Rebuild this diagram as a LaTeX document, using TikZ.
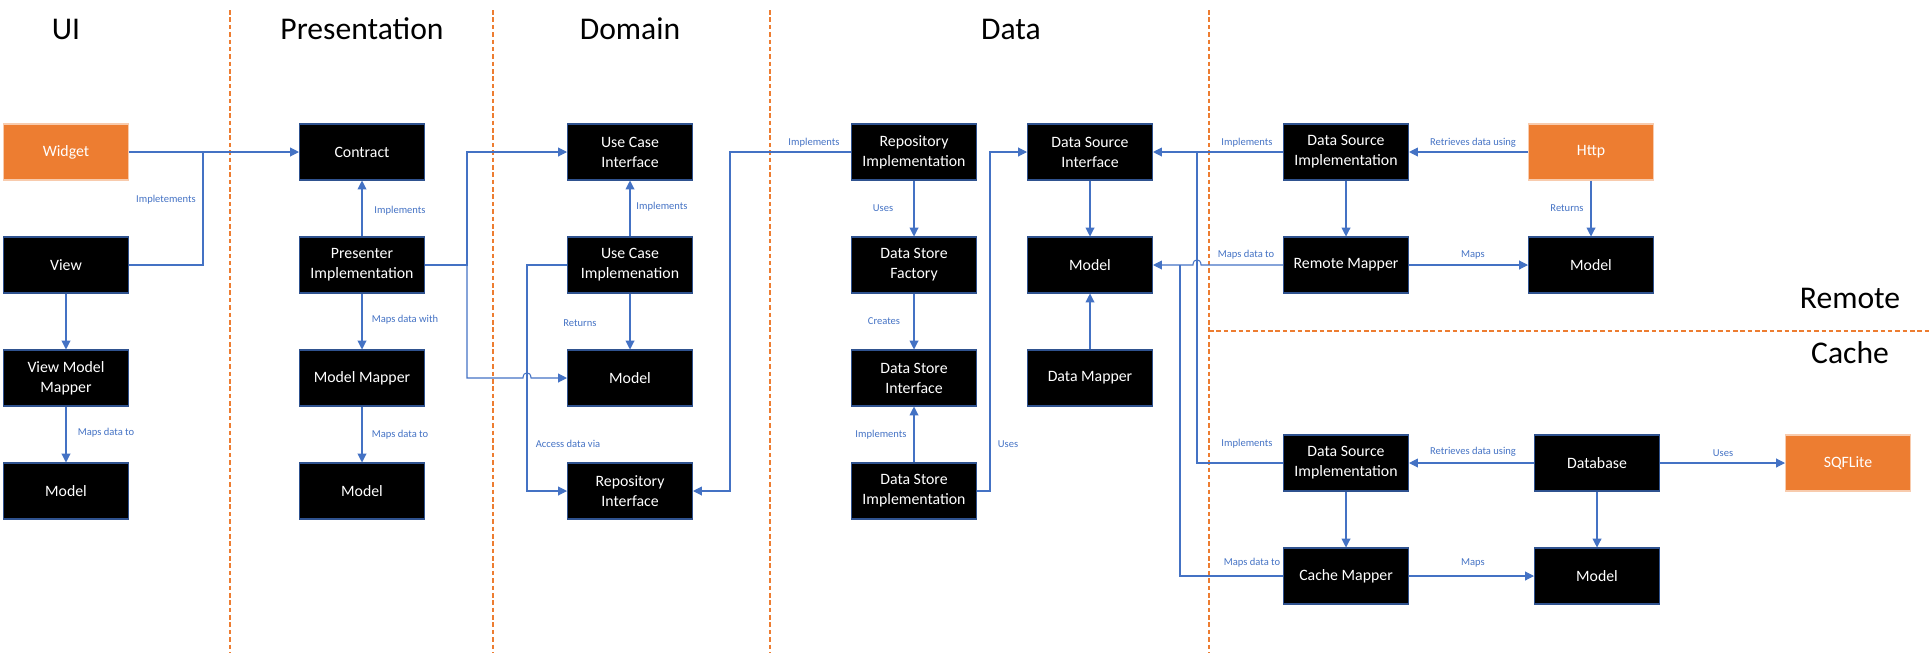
\documentclass[tikz,border=0pt]{standalone}
\usepackage{fontspec}
\setmainfont{Carlito}
\usepackage{xcolor}
\usepackage{tikz}
\usetikzlibrary{arrows.meta}

\definecolor{lineblue}{HTML}{4472C4}
\definecolor{boxedge}{HTML}{2F528F}
\definecolor{extorange}{HTML}{ED7D31}
\definecolor{extedge}{HTML}{F8CBAD}

\tikzset{
  box/.style={draw=boxedge, fill=black, text=white, line width=0.6pt,
    minimum width=2.5cm, minimum height=1.12cm, inner sep=0pt, align=center,
    font=\fontsize{9}{11.4}\selectfont},
  extbox/.style={box, draw=extedge, fill=extorange},
  conn/.style={draw=lineblue, line width=0.6pt},
  arr/.style={conn, -{Triangle[length=5pt,width=5pt]}},
  lbl/.style={text=lineblue, font=\fontsize{6}{7}\selectfont, inner sep=0pt},
  layer/.style={font=\fontsize{18}{20}\selectfont, inner sep=0pt, anchor=base},
  sep/.style={draw=extorange, line width=0.6pt, dash pattern=on 2.6pt off 1.6pt}
}

\begin{document}
\begin{tikzpicture}[x=0.02cm, y=-0.02cm]
  \useasboundingbox (0,0) rectangle (1929,653);
  % Layer separators
  \foreach \x in {230,493,770,1209}{
    \draw[sep] (\x,10) -- (\x,653);
  }
  \draw[sep] (1209,331) -- (1929,331);
  % Layer titles
  \node[layer] (tui) at (66,39) {UI};
  \node[layer] (tpres) at (362,39) {Presentation};
  \node[layer] (tdom) at (630,39) {Domain};
  \node[layer] (tdata) at (1011,39) {Data};
  \node[layer] (tremote) at (1850,308) {Remote};
  \node[layer] (tcache) at (1850,363) {Cache};
  % Components
  \foreach \n/\x/\y/\t in {
    view/66/265/View, vmm/66/378/{View Model\\Mapper}, uimodel/66/491/Model,
    contract/362/152/Contract, presenter/362/265/{Presenter\\Implementation},
    mmapper/362/378/Model Mapper, pmodel/362/491/Model,
    ucif/630/152/{Use Case\\Interface}, ucimpl/630/265/{Use Case\\Implemenation},
    dmodel/630/378/Model, repoif/630/491/{Repository\\Interface},
    repoimpl/914/152/{Repository\\Implementation}, dsfactory/914/265/{Data Store\\Factory},
    dsif/914/378/{Data Store\\Interface}, dsimpl/914/491/{Data Store\\Implementation},
    srcif/1090/152/{Data Source\\Interface}, datamodel/1090/265/Model,
    datamapper/1090/378/Data Mapper,
    remimpl/1346/152/{Data Source\\Implementation}, remmapper/1346/265/Remote Mapper,
    remmodel/1591/265/Model,
    cacheimpl/1346/463/{Data Source\\Implementation}, cachemapper/1346/576/Cache Mapper,
    database/1597/463/Database, cachemodel/1597/576/Model}{
    \node[box] (\n) at (\x,\y) {\t};
  }
  % External pieces
  \node[extbox] (widget) at (66,152) {Widget};
  \node[extbox] (http) at (1591,152) {Http};
  \node[extbox] (sqflite) at (1848,463) {SQFLite};
  % UI
  \coordinate (jview) at (203,152);
  \draw[arr] (widget.east) -- (contract.west);
  \draw[conn] (view.east) -| (jview);
  \draw[arr] (view) -- (vmm);
  \draw[arr] (vmm) -- (uimodel);
  % Presentation
  \draw[arr] (presenter) -- (contract);
  \draw[arr] (presenter) -- (mmapper);
  \draw[arr] (mmapper) -- (pmodel);
  \draw[arr] (presenter.east) -- (467,265) |- (ucif.west);
  \draw[arr] (presenter.east) -- (467,265) |- (523,378)
    .. controls (523,371) and (531,371) .. (531,378) -- (dmodel.west);
  % Domain
  \draw[arr] (ucimpl) -- (ucif);
  \draw[arr] (ucimpl) -- (dmodel);
  \draw[arr] (ucimpl.west) -- (527,265) |- (repoif.west);
  \draw[arr] (repoimpl.west) -- (730,152) |- (repoif.east);
  % Data
  \draw[arr] (repoimpl) -- (dsfactory);
  \draw[arr] (dsfactory) -- (dsif);
  \draw[arr] (dsimpl) -- (dsif);
  \draw[arr] (dsimpl.east) -- (990,491) |- (srcif.west);
  \draw[arr] (srcif) -- (datamodel);
  \draw[arr] (datamapper) -- (datamodel);
  % Remote
  \draw[arr] (remimpl) -- (srcif);
  \draw[arr] (remmapper.west) -- (1201,265)
    .. controls (1201,258) and (1193,258) .. (1193,265) -- (datamodel.east);
  \draw[arr] (http) -- (remimpl);
  \draw[arr] (http) -- (remmodel);
  \draw[arr] (remimpl) -- (remmapper);
  \draw[arr] (remmapper) -- (remmodel);
  % Cache
  \coordinate (jimpl) at (1197,152);
  \coordinate (jmap) at (1180,265);
  \draw[conn] (cacheimpl.west) -| (jimpl);
  \draw[conn] (cachemapper.west) -| (jmap);
  \draw[arr] (database) -- (cacheimpl);
  \draw[arr] (database) -- (sqflite);
  \draw[arr] (database) -- (cachemodel);
  \draw[arr] (cacheimpl) -- (cachemapper);
  \draw[arr] (cachemapper) -- (cachemodel);
  % Connector labels
  \foreach \n/\x/\y/\t in {
    luiimpl/166/200/Impletements, luimaps/106/433/Maps data to,
    lpimpl/400/211/Implements, lpwith/405/320/Maps data with, lpto/400/435/Maps data to,
    lucimpl/662/207/Implements, lucret/580/323/Returns, lucacc/568/444/Access data via,
    lrepo/814/143/Implements, ldsuses/883/208/Uses, ldscreate/884/321/Creates,
    ldsimpl/881/435/Implements, lsrcuses/1008/444/Uses,
    lremimpl/1247/143/Implements, lremto/1246/255/Maps data to,
    lcacheimpl/1247/444/Implements, lcacheto/1252/563/Maps data to,
    lremget/1473/143/Retrieves data using, lremret/1567/208/Returns, lremmaps/1473/255/Maps,
    lcacheget/1473/452/Retrieves data using, lcacheuses/1723/453/Uses, lcachemaps/1473/563/Maps}{
    \node[lbl] (\n) at (\x,\y) {\t};
  }
\end{tikzpicture}
\end{document}
